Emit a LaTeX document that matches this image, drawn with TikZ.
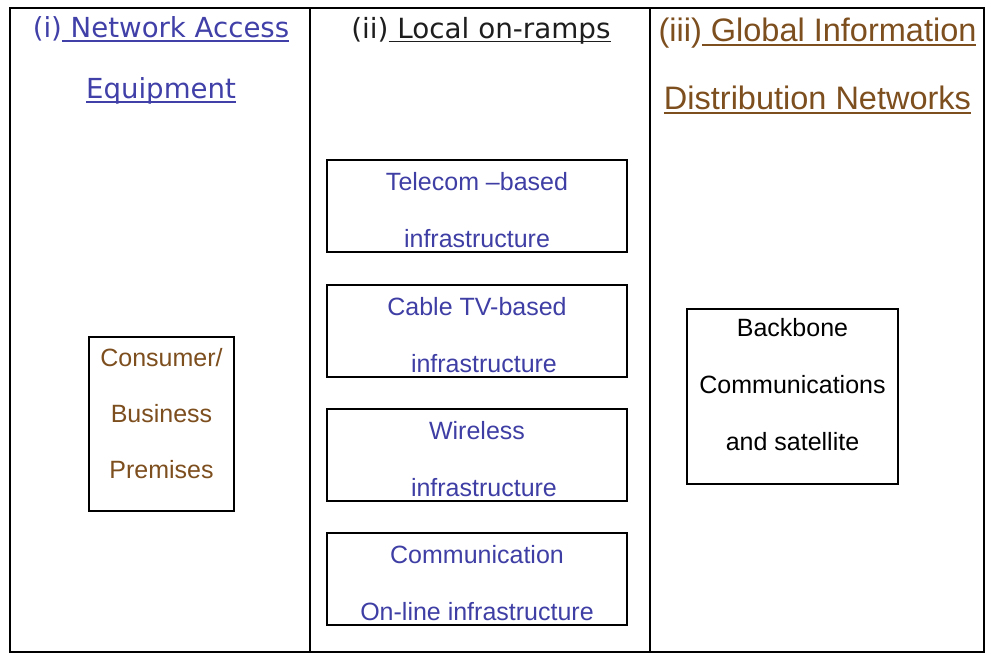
\documentclass[tikz,border=0pt]{standalone}
\usepackage{fontspec}
\setmainfont{Liberation Sans}
\newfontfamily\verdanafont{DejaVu Sans}
\usetikzlibrary{positioning}
\definecolor{headblue}{RGB}{64,64,168}
\definecolor{boxblue}{RGB}{62,62,165}
\definecolor{boxbrown}{RGB}{125,78,30}
\definecolor{headgray}{RGB}{30,30,30}
\newcommand{\headul}[1]{\setbox0\hbox{#1}\rlap{\rule[-0.15em]{\wd0}{0.06em}}\box0}
\tikzset{
    colnode/.style = {draw, rectangle, inner sep=0pt, outer sep=0pt, line width=1.2pt, minimum height=644pt},
    headnode/.style = {draw=none, rectangle, inner sep=0pt, outer sep=0pt, align=center},
    boxnode/.style = {draw, rectangle, inner sep=0pt, outer sep=0pt, line width=1.1pt, align=center,
      font={\fontsize{25}{57}\selectfont}},
    rampnode/.style = {boxnode, minimum width=300pt, minimum height=92pt, text height=83pt, text=boxblue},
    every text node part/.style={align=center}
}
\begin{document}
\begin{tikzpicture}
\useasboundingbox (-10pt,8pt) rectangle (986pt,-656pt);
% the three columns
\node[colnode, name=colA, minimum width=300pt, anchor=north west] at (0,0) {};
\node[colnode, name=colB, minimum width=340pt, right=0pt of colA] {};
\node[colnode, name=colC, minimum width=334pt, right=0pt of colB] {};
% headings
\node[headnode, name=headA, below=9pt of colA.north, xshift=1pt, text=headblue,
  font={\verdanafont\fontsize{27.6}{61}\selectfont}] {(i)\headul{\ Network Access}\\\headul{Equipment}};
\node[headnode, name=headB, below=9pt of colB.north, xshift=1pt, text=headgray,
  font={\verdanafont\fontsize{27.8}{61}\selectfont}] {(ii)\headul{\ Local on-ramps}};
\node[headnode, name=headC, below=10pt of colC.north, xshift=0.5pt, text=boxbrown,
  font={\fontsize{32.5}{68}\selectfont}] {(iii)\headul{\ Global Information}\\\headul{Distribution Networks}};
% boxes
\node[boxnode, name=premises, below=329pt of colA.north, xshift=1.5pt, minimum width=145pt, minimum height=174pt,
  text=boxbrown, text depth=22pt, font={\fontsize{25}{56}\selectfont}] {Consumer/\\Business\\Premises};
\node[rampnode, name=telecom, below=152pt of colB.north, xshift=-3pt] {Telecom --based\\infrastructure};
\node[rampnode, name=cable, below=33pt of telecom] {Cable TV-based\\\ \ infrastructure};
\node[rampnode, name=wireless, below=32pt of cable] {Wireless\\\ \ infrastructure};
\node[rampnode, name=online, below=32pt of wireless] {Communication\\On-line infrastructure};
\node[boxnode, name=backbone, below=301pt of colC.north, xshift=-24.5pt, minimum width=211pt, minimum height=175pt,
  text=black, text depth=24pt] {Backbone\\Communications\\and satellite};
\end{tikzpicture}
\end{document}
